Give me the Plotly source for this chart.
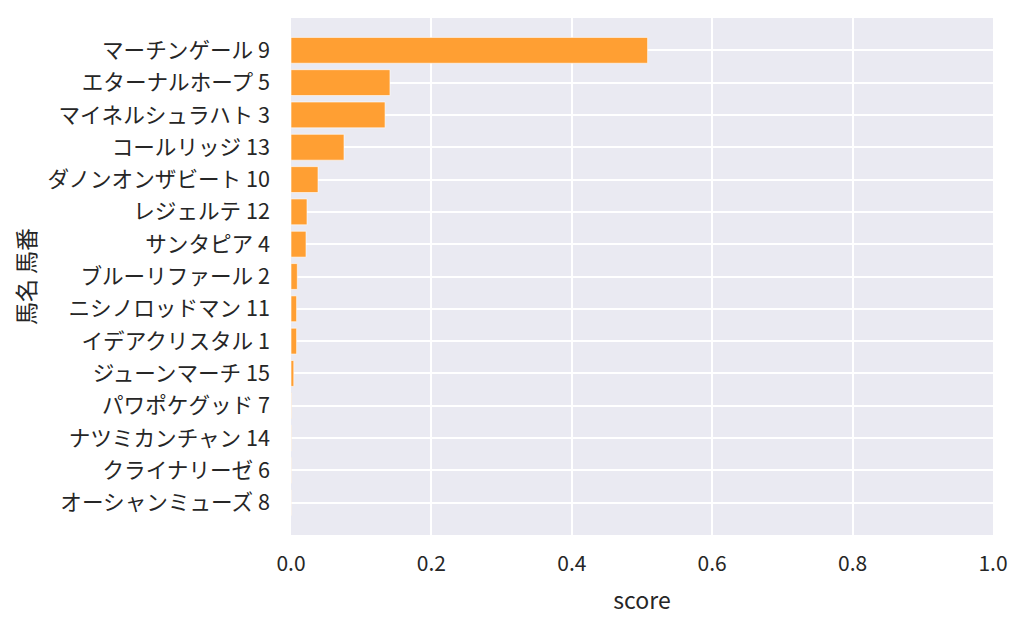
import plotly.graph_objects as go

# horse labels (name + number), top to bottom
horses = [
    'マーチンゲール 9', 'エターナルホープ 5', 'マイネルシュラハト 3', 'コールリッジ 13',
    'ダノンオンザビート 10', 'レジェルテ 12', 'サンタピア 4', 'ブルーリファール 2',
    'ニシノロッドマン 11', 'イデアクリスタル 1', 'ジューンマーチ 15', 'パワポケグッド 7',
    'ナツミカンチャン 14', 'クライナリーゼ 6', 'オーシャンミューズ 8',
]
scores = [0.508, 0.141, 0.134, 0.0755, 0.0385, 0.0228, 0.0214, 0.009,
          0.008, 0.008, 0.004, 0.0006, 0.0004, 0.0003, 0.0002]
x_ticks = [0.0, 0.2, 0.4, 0.6, 0.8, 1.0]

FONT = 'Noto Sans CJK JP'
TXT = '#262626'

fig = go.Figure()
fig.add_trace(go.Bar(
    x=scores,
    y=horses,
    orientation='h',
    width=0.8,
    marker=dict(color='#FF9F33', line=dict(color='rgba(255,255,255,0.6)', width=1)),
    showlegend=False,
))

# page is offset ~8px by the browser body margin, margins compensate
fig.update_layout(
    width=1024,
    height=627,
    margin=dict(l=283, r=39, t=10, b=100),
    paper_bgcolor='white',
    plot_bgcolor='#EAEAF2',
    font=dict(family=FONT, size=22, color=TXT),
)
fig.update_xaxes(
    range=[0, 1],
    tickvals=x_ticks,
    ticktext=[f'{v:.1f}' for v in x_ticks],
    showgrid=True, gridcolor='white', gridwidth=1.5,
    zeroline=False, showline=False, ticks='',
    ticklabelstandoff=14,
    tickfont=dict(size=21, family=FONT, color=TXT),
    title=dict(text='score', font=dict(size=23, family=FONT, color=TXT), standoff=16),
)
fig.update_yaxes(
    type='category',
    categoryorder='array',
    categoryarray=horses,
    range=[15, -1],
    showgrid=True, gridcolor='white', gridwidth=1.5,
    zeroline=False, showline=False, ticks='',
    ticklabelstandoff=20,
    tickfont=dict(size=21.6, family=FONT, color=TXT),
    title=dict(text='馬名 馬番', font=dict(size=23, family=FONT, color=TXT), standoff=8),
)

fig.write_html('out.html')
